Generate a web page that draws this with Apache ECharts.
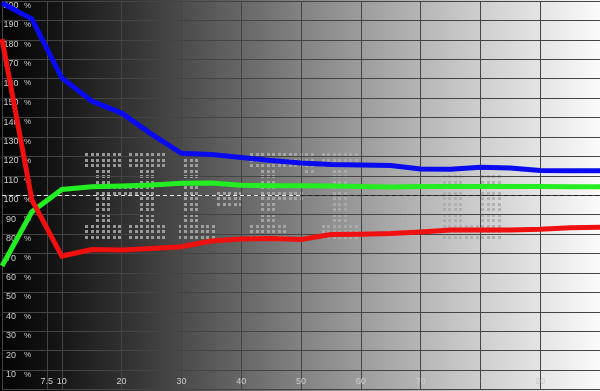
<!DOCTYPE html>
<html>
<head>
<meta charset="utf-8">
<script src="https://cdn.jsdelivr.net/npm/echarts@6/dist/echarts.min.js"></script>
<style>
html,body{margin:0;padding:0;background:#000;}
#chart{width:600px;height:391px;}
</style>
</head>
<body>
<div id="chart"></div>
<script>
// ---- data ----
const xValues = [0, 5, 10, 15, 20, 25, 30, 35, 40, 45, 50, 55, 60, 65, 70, 75, 80, 85, 90, 95, 100];
const redValues = [180.4, 97.6, 68.7, 72.1, 71.8, 72.6, 73.5, 76.4, 77.5, 77.7, 77.2, 79.8, 79.9, 80.3, 81.1, 82.1, 82.1, 82.1, 82.5, 83.3, 83.5];
const greenValues = [63.6, 91.5, 103, 104.4, 104.8, 105.3, 106.2, 106.3, 105.1, 104.9, 104.9, 104.8, 104.5, 104.2, 104.5, 104.5, 104.5, 104.5, 104.5, 104.4, 104.4];
const blueValues = [199, 190.7, 160.4, 148.5, 142.3, 131.5, 121.6, 121, 119.4, 117.9, 116.6, 115.8, 115.6, 115.3, 113.5, 113.4, 114.4, 114, 112.7, 112.6, 112.6];
const xTickValues = [0, 7.5, 10, 20, 30, 40, 50, 60, 70, 80, 90, 100];
const xLabelValues = [7.5, 10, 20, 30, 40, 50, 60, 70, 80, 90];
const referenceLevel = 100;

// ---- watermark glyph blocks (decoration): [c0, r0, c1, r1] ----
const watermarkBlocks = [
  [0,0,6,2],[2,3,4,12],[0,13,6,15],[8,0,14,2],[10,3,12,12],[8,13,14,15],[5,6,9,7],
  [18,0,20,12],[17,13,23,15],
  [24,7,28,9],
  [30,0,41,2],[40,3,41,3],[32,3,34,12],[35,7,39,8],[30,13,36,15],
  [43,0,49,2],[45,3,47,12],[43,13,49,15],
  [56,10,58,12],
  [65,4,68,12],[72,4,75,15],[65,13,75,15]
];

function pairs(xs, ys){ return xs.map((x,i)=>[x, ys[i]]); }

const dots = [];
const pitch = 5.5, ox = 85, oy = 153;
watermarkBlocks.forEach(b=>{
  for(let c=b[0]; c<=b[2]; c++){
    for(let r=b[1]; r<=b[3]; r++){
      dots.push({type:'rect', shape:{x: Math.round(ox + c*pitch), y: Math.round(oy + r*pitch), width:3, height:3},
        style:{fill:'rgba(172,172,172,0.85)'}, silent:true});
    }
  }
});

const chart = echarts.init(document.getElementById('chart'), null, {renderer:'canvas'});
const gridColor = '#444444';
const labelColor = '#cccccc';
const option = {
  animation:false,
  graphic:[
    {type:'rect', z:-10, shape:{x:0,y:0,width:600,height:391}, silent:true,
     style:{fill:new echarts.graphic.LinearGradient(0,0,1,0,[
       {offset:0,color:'#030303'},{offset:0.1,color:'#161616'},{offset:0.25,color:'#3c3c3c'},
       {offset:0.5,color:'#828282'},{offset:0.75,color:'#c2c2c2'},{offset:0.9,color:'#e4e4e4'},
       {offset:1,color:'#fbfbfb'}])}},
    {type:'group', z:100, children:dots}
  ],
  grid:{left:0,right:0,top:1,bottom:1.5},
  xAxis:{
    type:'value', min:0, max:100,
    axisLine:{show:false},
    axisTick:{show:false, customValues:xTickValues},
    splitLine:{show:true, lineStyle:{color:gridColor,width:1}},
    axisLabel:{show:true, inside:true, margin:3, customValues:xLabelValues,
      color:labelColor, fontSize:9, fontFamily:'Liberation Sans, Arial, sans-serif',
      verticalAlign:'bottom', formatter:v=>String(v)}
  },
  yAxis:{
    type:'value', min:0, max:200, interval:10,
    axisLine:{show:false}, axisTick:{show:false},
    splitLine:{show:true, lineStyle:{color:gridColor,width:1}},
    axisLabel:{inside:true, margin:1, verticalAlign:'top', align:'left',
      fontFamily:'Liberation Sans, Arial, sans-serif', fontSize:9, color:labelColor,
      formatter:v=> v===0 ? '' : '{n|'+v+'}{p|%}',
      rich:{n:{width:16,align:'right',fontSize:9,color:labelColor},
            p:{padding:[0,0,0,5],fontSize:8,color:labelColor}}}
  },
  series:[
    {type:'line', data:pairs(xValues, blueValues), symbol:'none', z:3,
     lineStyle:{color:'#0a0af0', width:5, join:'miter'},
     markLine:{silent:true, symbol:'none', label:{show:false}, z:2,
       data:[
         [{coord:[0,referenceLevel], lineStyle:{color:'#e6e6e6',width:1,type:[4,3]}},{coord:[50,referenceLevel]}],
         [{coord:[50,referenceLevel], lineStyle:{color:'#222222',width:1,type:[4,3]}},{coord:[100,referenceLevel]}]
       ]}},
    {type:'line', data:pairs(xValues, greenValues), symbol:'none', z:4,
     lineStyle:{color:'#22ee22', width:5, join:'miter'}},
    {type:'line', data:pairs(xValues, redValues), symbol:'none', z:5,
     lineStyle:{color:'#f01010', width:5, join:'miter'}}
  ]
};
chart.setOption(option);
</script>
</body>
</html>
